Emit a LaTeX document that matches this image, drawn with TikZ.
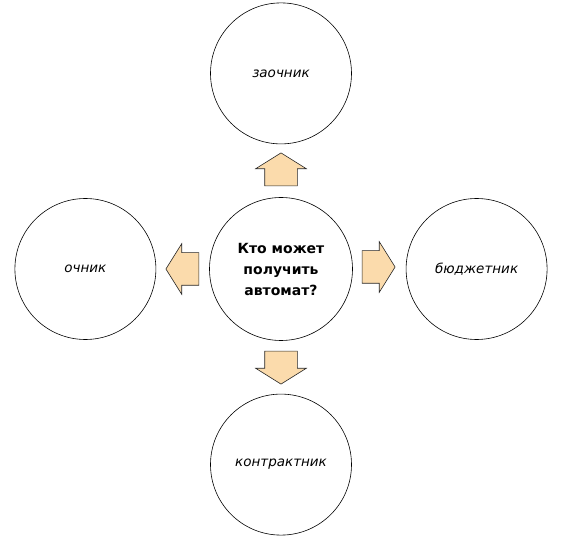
\documentclass[tikz,border=0pt]{standalone}
\usepackage{fontspec}
\setmainfont{DejaVu Sans}
\usepackage{xcolor}
\usepackage{tikz}
\usetikzlibrary{shapes.arrows, positioning, calc}

\definecolor{arrowfill}{RGB}{251,219,172}

\begin{document}
\begin{tikzpicture}[
    x=1pt, y=-1pt,
    node distance=53pt,
    every node/.style={font=\fontsize{12}{15}\selectfont},
    group/.style={draw, line width=0.6pt, circle, minimum size=141pt, inner sep=0pt, font=\itshape\fontsize{13.5}{16}\selectfont},
    question/.style={draw, line width=0.6pt, circle, minimum size=143pt, inner sep=0pt, align=center, font=\bfseries\fontsize{14}{21}\selectfont},
    pointer/.style={single arrow, anchor=tail, draw=black!85, line width=0.6pt, fill=arrowfill, inner xsep=0pt, inner ysep=16pt, minimum height=33pt, single arrow head extend=9pt, single arrow tip angle=116}
]
\useasboundingbox (0,0) rectangle (563,537);

\node[question] (ask) at (281,269) {Кто может\\получить\\автомат?};
\node[group, above=of ask] (zaoch) {заочник};
\node[group, below=of ask] (kontr) {контрактник};
\node[group, left=of ask] (och) {очник};
\node[group, right=of ask] (budg) {бюджетник};

% arrows from the question outwards
\node[pointer, rotate=90] (toZaoch) at ($(ask.north)+(0,-11)$) {};
\node[pointer, rotate=-90] (toKontr) at ($(ask.south)+(0,10)$) {};
\node[pointer, rotate=180] (toOch) at ($(ask.west)+(-10,0)$) {};
\node[pointer] (toBudg) at ($(ask.east)+(9,-2)$) {};
\end{tikzpicture}
\end{document}
